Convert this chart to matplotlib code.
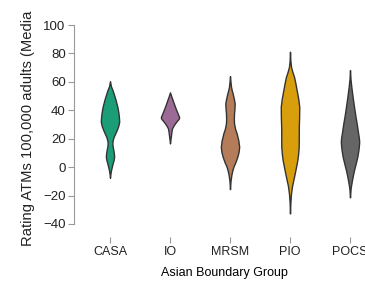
import matplotlib
matplotlib.use('Agg')
import matplotlib.pyplot as plt

plt.rcParams.update({
    'font.family': ['Liberation Sans', 'DejaVu Sans'],
    'font.size': 9,
    'axes.edgecolor': '#999999',
    'xtick.color': '#999999',
    'ytick.color': '#999999',
    'xtick.labelcolor': '#222222',
    'ytick.labelcolor': '#222222',
})

GROUPS = ['CASA', 'IO', 'MRSM', 'PIO', 'POCS']
COLORS = ['#1b9e77', '#9c6b95', '#b57c59', '#d99e0b', '#666666']

# density profile: value (y) and half width (category units)
CASA_Y = [60.5, 57, 54.2, 50.5, 47.2, 42, 37.8, 34.5, 31.9, 29, 26, 23.5, 21.3, 19, 16.7, 14.3, 12, 9.5, 7.3, 5, 2.6, -2.1, -5, -7.5]
CASA_W = [0, 0.015, 0.042, 0.07, 0.094, 0.125, 0.142, 0.15, 0.153, 0.138, 0.111, 0.085, 0.061, 0.045, 0.039, 0.045, 0.056, 0.065, 0.069, 0.06, 0.044, 0.017, 0.006, 0]

IO_Y = [52.6, 50, 47.2, 44, 41.3, 38, 36, 35, 34, 32.8, 30.8, 29, 27.2, 25, 22.5, 19, 16.7]
IO_W = [0, 0.02, 0.044, 0.07, 0.094, 0.125, 0.145, 0.153, 0.145, 0.12, 0.083, 0.055, 0.033, 0.024, 0.017, 0.006, 0]

MRSM_Y = [64, 60, 56.5, 54, 51.9, 48, 44.8, 41, 37.8, 34, 30.8, 27, 23.7, 19, 14.3, 10.5, 7.3, 3.5, 0.2, -2.8, -5.6, -10, -15.5]
MRSM_W = [0, 0.008, 0.017, 0.03, 0.044, 0.065, 0.078, 0.074, 0.067, 0.064, 0.067, 0.085, 0.111, 0.138, 0.153, 0.142, 0.122, 0.09, 0.056, 0.036, 0.022, 0.008, 0]

PIO_Y = [81.2, 75, 70.6, 67, 63.6, 59, 54.2, 48, 42.5, 35, 28.4, 20, 14.3, 9.5, 4.9, -1, -6.8, -13, -18.5, -25, -32.6]
PIO_W = [0, 0.006, 0.017, 0.04, 0.067, 0.09, 0.111, 0.138, 0.154, 0.152, 0.147, 0.146, 0.145, 0.136, 0.122, 0.095, 0.067, 0.035, 0.017, 0.006, 0]

POCS_Y = [68.3, 62, 56.5, 49, 42.5, 36, 30.8, 24, 20.5, 17.8, 15, 12, 7.3, 2.5, -2.1, -6.5, -10.3, -15, -21.3]
POCS_W = [0, 0.008, 0.022, 0.045, 0.067, 0.09, 0.111, 0.135, 0.148, 0.153, 0.148, 0.14, 0.122, 0.095, 0.067, 0.045, 0.028, 0.01, 0]

PROFILES = [(CASA_Y, CASA_W), (IO_Y, IO_W), (MRSM_Y, MRSM_W), (PIO_Y, PIO_W), (POCS_Y, POCS_W)]

fig = plt.figure(figsize=(3.65, 2.87), dpi=100)
ax = fig.add_axes([74 / 365, 63 / 287, 300 / 365, 199 / 287])

for i, ((ys, ws), c) in enumerate(zip(PROFILES, COLORS)):
    left = [i - w for w in ws]
    right = [i + w for w in ws]
    ax.fill_betweenx(ys, left, right, facecolor=c, edgecolor='#333333', linewidth=1.0, zorder=2)

ax.set_xlim(-0.6, 4.4)
ax.set_ylim(-40, 100)
ax.set_yticks(range(-40, 101, 20))
ax.set_xticks(range(len(GROUPS)))
ax.set_xticklabels(GROUPS, fontsize=9.5)
ax.tick_params(axis='y', length=4, width=0.8, labelsize=9.5, pad=2)
ax.tick_params(axis='x', length=4, width=0.8, pad=3)

for s in ['top', 'right', 'bottom']:
    ax.spines[s].set_visible(False)
ax.spines['left'].set_linewidth(0.8)
ax.spines['bottom'].set_position(('outward', 9))

ax.set_xlabel('Asian Boundary Group', fontsize=9, labelpad=6)
# the label is truncated like this in the source chart
fig.text(28 / 365, (287 - 246) / 287, 'Rating ATMs 100,000 adults (Media',
         rotation=90, ha='center', va='bottom', fontsize=10.6, color='#222222')

fig.savefig('out.png', dpi=100, facecolor='white')
